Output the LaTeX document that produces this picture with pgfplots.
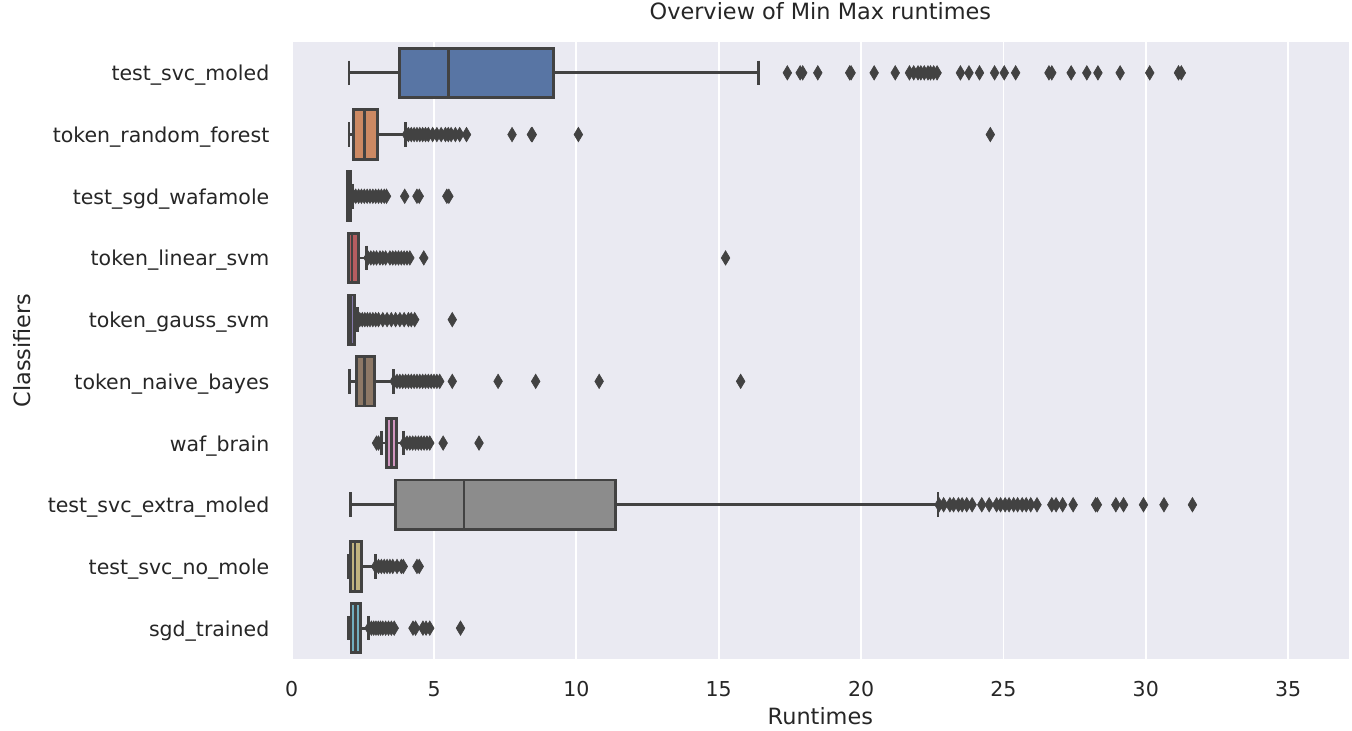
\documentclass[border=0pt]{standalone}
\usepackage{pgfplots}
\pgfplotsset{compat=1.18}
\usepgfplotslibrary{statistics}
\usepackage{fontspec}
\setmainfont{DejaVu Sans}
\definecolor{bgc}{HTML}{EAEAF2}
\definecolor{linec}{HTML}{424242}
\definecolor{txtc}{HTML}{262626}
\definecolor{c1}{HTML}{5875A4}
\definecolor{c2}{HTML}{CC8963}
\definecolor{c3}{HTML}{5F9E6E}
\definecolor{c4}{HTML}{B55D60}
\definecolor{c5}{HTML}{857AAB}
\definecolor{c6}{HTML}{8D7866}
\definecolor{c7}{HTML}{D095BF}
\definecolor{c8}{HTML}{8C8C8C}
\definecolor{c9}{HTML}{C1B37F}
\definecolor{c10}{HTML}{71AEC0}
\pgfplotsset{
  sb/.style={draw=linec, line width=1.4bp, mark=diamond*, mark size=3.6bp,
    mark options={fill=linec, draw=linec, line width=0.3bp, xscale=0.8, solid}},
}
\begin{document}
\begin{tikzpicture}
\path[use as bounding box] (0,0) rectangle (676bp,365.5bp);
\begin{axis}[
  at={(145.85bp,36bp)}, anchor=south west,
  scale only axis, width=528.65bp, height=308.5bp,
  xmin=0, xmax=37.14, ymin=0.5, ymax=10.5, y dir=reverse,
  boxplot/draw direction=x, boxplot/box extend=0.8, boxplot/whisker extend=0.4,
  axis background/.style={fill=bgc},
  axis line style={draw=none},
  xmajorgrids, major grid style={white, line width=0.9bp},
  xtick={0,5,...,35}, ytick={1,...,10},
  yticklabels={test\_svc\_moled, token\_random\_forest, test\_sgd\_wafamole, token\_linear\_svm, token\_gauss\_svm, token\_naive\_bayes, waf\_brain, test\_svc\_extra\_moled, test\_svc\_no\_mole, sgd\_trained},
  major tick length=0pt,
  /pgf/number format/assume math mode=true,
  tick label style={font=\fontsize{10.25bp}{12bp}\selectfont, text=txtc},
  xticklabel style={anchor=base, yshift=-18.5bp, inner sep=0pt},
  yticklabel style={anchor=base east, inner sep=0pt, xshift=-11bp, yshift=-4bp},
  title={Overview of Min Max runtimes},
  title style={at={(axis description cs:0.5,1)}, anchor=base, yshift=5.3bp, font=\fontsize{11.2bp}{13bp}\selectfont, text=txtc, inner sep=0pt},
  xlabel={Runtimes},
  xlabel style={at={(axis description cs:0.5,0)}, anchor=base, yshift=-32.5bp, font=\fontsize{11.2bp}{13bp}\selectfont, text=txtc, inner sep=0pt},
  ylabel={Classifiers},
  ylabel style={at={(axis description cs:-0.24751,0.5)}, anchor=base, font=\fontsize{11.2bp}{13bp}\selectfont, text=txtc, inner sep=0pt},
]
% 1 test_svc_moled
\addplot[sb, fill=c1, boxplot prepared={draw position=1, lower whisker=2.01, lower quartile=3.79, median=5.52, upper quartile=9.20, upper whisker=16.39}]
 table[row sep=\\, y index=0] {v\\ 17.41\\ 17.86\\ 17.95\\ 18.48\\ 19.60\\ 19.65\\ 20.46\\ 21.20\\ 21.70\\ 21.85\\ 22.00\\ 22.10\\ 22.22\\ 22.35\\ 22.44\\ 22.55\\ 22.67\\ 23.49\\ 23.79\\ 24.16\\ 24.69\\ 25.03\\ 25.43\\ 26.60\\ 26.70\\ 27.38\\ 27.93\\ 28.32\\ 29.10\\ 30.14\\ 31.15\\ 31.25\\};
% 2 token_random_forest
\addplot[sb, fill=c2, boxplot prepared={draw position=2, lower whisker=2.01, lower quartile=2.18, median=2.56, upper quartile=3.01, upper whisker=4.00}]
 table[row sep=\\, y index=0] {v\\ 4.03\\ 4.10\\ 4.20\\ 4.30\\ 4.40\\ 4.50\\ 4.60\\ 4.70\\ 4.80\\ 4.95\\ 5.10\\ 5.25\\ 5.40\\ 5.50\\ 5.60\\ 5.75\\ 5.90\\ 6.14\\ 7.74\\ 8.42\\ 8.45\\ 10.07\\ 24.54\\};
% 3 test_sgd_wafamole
\addplot[sb, fill=c3, boxplot prepared={draw position=3, lower whisker=1.95, lower quartile=1.97, median=2.00, upper quartile=2.07, upper whisker=2.14}]
 table[row sep=\\, y index=0] {v\\ 2.17\\ 2.25\\ 2.35\\ 2.45\\ 2.55\\ 2.65\\ 2.75\\ 2.85\\ 2.95\\ 3.05\\ 3.15\\ 3.25\\ 3.33\\ 3.97\\ 4.40\\ 4.48\\ 5.45\\ 5.52\\};
% 4 token_linear_svm
\addplot[sb, fill=c4, boxplot prepared={draw position=4, lower whisker=1.98, lower quartile=2.00, median=2.12, upper quartile=2.35, upper whisker=2.62}]
 table[row sep=\\, y index=0] {v\\ 2.68\\ 2.78\\ 2.88\\ 2.98\\ 3.10\\ 3.20\\ 3.30\\ 3.45\\ 3.55\\ 3.65\\ 3.75\\ 3.85\\ 3.95\\ 4.05\\ 4.15\\ 4.64\\ 15.24\\};
% 5 token_gauss_svm
\addplot[sb, fill=c5, boxplot prepared={draw position=5, lower whisker=1.98, lower quartile=1.99, median=2.08, upper quartile=2.21, upper whisker=2.32}]
 table[row sep=\\, y index=0] {v\\ 2.39\\ 2.48\\ 2.57\\ 2.66\\ 2.75\\ 2.85\\ 2.95\\ 3.05\\ 3.20\\ 3.35\\ 3.50\\ 3.65\\ 3.80\\ 3.95\\ 4.10\\ 4.20\\ 4.32\\ 5.64\\};
% 6 token_naive_bayes
\addplot[sb, fill=c6, boxplot prepared={draw position=6, lower whisker=2.03, lower quartile=2.28, median=2.55, upper quartile=2.90, upper whisker=3.57}]
 table[row sep=\\, y index=0] {v\\ 3.60\\ 3.70\\ 3.80\\ 3.90\\ 4.00\\ 4.10\\ 4.20\\ 4.30\\ 4.40\\ 4.50\\ 4.60\\ 4.70\\ 4.80\\ 4.90\\ 5.00\\ 5.10\\ 5.20\\ 5.64\\ 7.25\\ 8.57\\ 10.80\\ 15.77\\};
% 7 waf_brain
\addplot[sb, fill=c7, boxplot prepared={draw position=7, lower whisker=3.15, lower quartile=3.34, median=3.51, upper quartile=3.69, upper whisker=3.92}]
 table[row sep=\\, y index=0] {v\\ 2.98\\ 3.05\\ 3.95\\ 4.05\\ 4.15\\ 4.25\\ 4.35\\ 4.45\\ 4.55\\ 4.65\\ 4.75\\ 4.85\\ 5.32\\ 6.58\\};
% 8 test_svc_extra_moled
\addplot[sb, fill=c8, boxplot prepared={draw position=8, lower whisker=2.07, lower quartile=3.65, median=6.05, upper quartile=11.38, upper whisker=22.70}]
 table[row sep=\\, y index=0] {v\\ 22.74\\ 22.90\\ 23.12\\ 23.25\\ 23.42\\ 23.55\\ 23.71\\ 23.90\\ 24.24\\ 24.50\\ 24.76\\ 24.90\\ 25.06\\ 25.20\\ 25.36\\ 25.50\\ 25.66\\ 25.80\\ 25.96\\ 26.18\\ 26.70\\ 26.85\\ 27.08\\ 27.45\\ 28.24\\ 28.30\\ 28.95\\ 29.22\\ 29.92\\ 30.64\\ 31.64\\};
% 9 test_svc_no_mole
\addplot[sb, fill=c9, boxplot prepared={draw position=9, lower whisker=2.00, lower quartile=2.07, median=2.22, upper quartile=2.46, upper whisker=2.93}]
 table[row sep=\\, y index=0] {v\\ 2.95\\ 3.05\\ 3.15\\ 3.25\\ 3.35\\ 3.45\\ 3.55\\ 3.70\\ 3.85\\ 3.92\\ 4.40\\ 4.48\\};
% 10 sgd_trained
\addplot[sb, fill=c10, boxplot prepared={draw position=10, lower whisker=1.99, lower quartile=2.08, median=2.25, upper quartile=2.43, upper whisker=2.69}]
 table[row sep=\\, y index=0] {v\\ 2.72\\ 2.80\\ 2.88\\ 2.96\\ 3.04\\ 3.12\\ 3.20\\ 3.30\\ 3.40\\ 3.50\\ 3.60\\ 4.26\\ 4.35\\ 4.61\\ 4.72\\ 4.85\\ 5.93\\};
\end{axis}
\end{tikzpicture}
\end{document}
